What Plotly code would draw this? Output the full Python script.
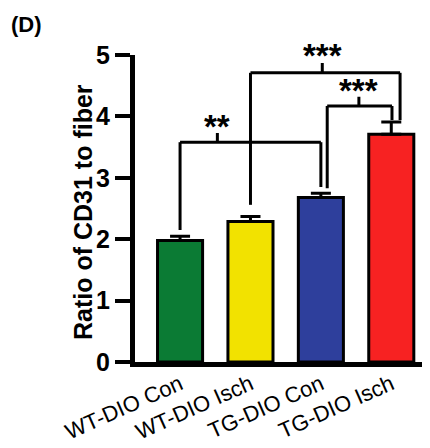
import plotly.graph_objects as go

categories = ["WT-DIO Con", "WT-DIO Isch", "TG-DIO Con", "TG-DIO Isch"]
values = [1.98, 2.29, 2.68, 3.71]
errors = [0.07, 0.08, 0.07, 0.20]
colors = ["#0b7b34", "#f2e200", "#2e3f9c", "#f72222"]
y_ticks = [0, 1, 2, 3, 4, 5]

# significance brackets: (x_left, x_right, y_bar, y_left_end, y_right_end, x_tick, y_tick_top, label, y_label)
brackets = [
    (0.0, 2.0, 3.58, 2.15, 2.85, 0.53, 3.73, "**", 3.84),
    (1.0, 3.125, 4.71, 2.56, 3.94, 2.02, 4.87, "***", 5.0),
    (2.09, 3.01, 4.17, 2.83, 3.94, 2.54, 4.32, "***", 4.43),
]

fig = go.Figure()
fig.add_trace(go.Bar(
    x=categories, y=values,
    marker=dict(color=colors, line=dict(color="black", width=3)),
    width=0.64,
    error_y=dict(type="data", array=errors, arrayminus=[0] * len(errors),
                 symmetric=False, color="black", thickness=3, width=10),
))

shapes = []
annotations = []
for xl, xr, yb, yle, yre, xt, ytt, lab, ylab in brackets:
    line = dict(color="black", width=3)
    shapes.append(dict(type="line", xref="x", yref="y", x0=xl, x1=xr, y0=yb, y1=yb, line=line))
    shapes.append(dict(type="line", xref="x", yref="y", x0=xl, x1=xl, y0=yb, y1=yle, line=line))
    shapes.append(dict(type="line", xref="x", yref="y", x0=xr, x1=xr, y0=yb, y1=yre, line=line))
    shapes.append(dict(type="line", xref="x", yref="y", x0=xt, x1=xt, y0=yb, y1=ytt, line=line))
    annotations.append(dict(x=xt, y=ylab, xref="x", yref="y", text=lab, showarrow=False,
                            font=dict(family="Liberation Sans", size=33, color="black", weight="bold"),
                            xanchor="center", yanchor="middle"))

# page body has an 8px margin, so figure coordinates are page coordinates minus 8
OFF = 8
W, H = 430 - OFF, 448 - OFF
ml, mr, mt, mb = 135 - OFF, 0, 55 - OFF, 86
pw, ph = W - ml - mr, H - mt - mb

def px(x, y):
    return (x - OFF - ml) / pw, (H - mb - (y - OFF)) / ph

tx, ty = px(83, 212)
annotations.append(dict(x=tx, y=ty, xref="paper", yref="paper", text="<b>Ratio of CD31 to fiber</b>",
                        showarrow=False, textangle=-90, xanchor="center", yanchor="middle",
                        font=dict(family="Liberation Sans", size=25, color="black")))
dx, dy = px(9, 10)
annotations.append(dict(x=dx, y=dy, xref="paper", yref="paper", text="<b>(D)</b>", showarrow=False,
                        xanchor="left", yanchor="top",
                        font=dict(family="Liberation Sans", size=22, color="black")))

fig.update_layout(
    width=W, height=H,
    margin=dict(l=ml, r=mr, t=mt, b=mb, autoexpand=False),
    plot_bgcolor="white", paper_bgcolor="white",
    showlegend=False,
    shapes=shapes,
    annotations=annotations,
    xaxis=dict(
        type="category", range=[-0.64, 3.55], automargin=False,
        showline=True, linewidth=5, linecolor="black",
        ticks="", tickangle=-24, ticklabelstandoff=-4,
        tickfont=dict(family="Liberation Sans", size=22, color="black"),
        showgrid=False, zeroline=False,
    ),
    yaxis=dict(
        range=[0, 5], tickvals=y_ticks, automargin=False,
        showline=True, linewidth=5, linecolor="black",
        ticks="outside", ticklen=15, tickwidth=4, tickcolor="black",
        tickfont=dict(family="Liberation Sans", size=25, color="black", weight="bold"),
        showgrid=False, zeroline=False,
    ),
)

fig.write_html("out.html")
